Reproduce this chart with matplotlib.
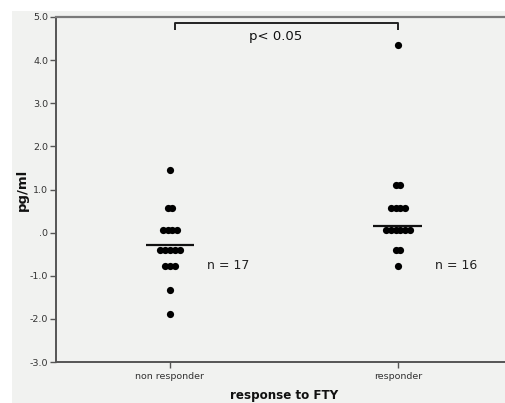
import matplotlib
matplotlib.use("Agg")
import matplotlib.pyplot as plt
from matplotlib.patches import Rectangle
import numpy as np

categories = ["non responder", "responder"]
non_responder = [1.45, 0.57, 0.57, 0.05, 0.05, 0.05, 0.05,
                 -0.40, -0.40, -0.40, -0.40, -0.40,
                 -0.77, -0.77, -0.77, -1.33, -1.89]
responder = [4.36, 1.10, 1.10, 0.57, 0.57, 0.57, 0.57,
             0.05, 0.05, 0.05, 0.05, 0.05, 0.05,
             -0.40, -0.40, -0.78]
group_lines = [-0.29, 0.16]
n_labels = ["n = 17", "n = 16"]
y_ticks = [-3, -2, -1, 0, 1, 2, 3, 4, 5]
y_ticklabels = ["-3.0", "-2.0", "-1.0", ".0", "1.0", "2.0", "3.0", "4.0", "5.0"]
p_text = "p< 0.05"

W, H = 506, 403
fig = plt.figure(figsize=(W / 100, H / 100), dpi=100)
fig.patch.set_facecolor("white")
bg = "#f1f2f0"
fig.patches.append(Rectangle((12 / W, 0), 1, 1 - 11 / H, transform=fig.transFigure,
                             facecolor=bg, edgecolor="none", zorder=-10))

ax = fig.add_axes([56 / W, 1 - 362 / H, 456 / W, (362 - 17) / H])
ax.set_zorder(5)
ax.set_facecolor(bg)
ax.set_xlim(0.5, 2.5)
ax.set_ylim(-3, 5)

px = 1 / 228.0  # data units per pixel in x
spacing = 4.75 * px
for gi, vals in enumerate([non_responder, responder]):
    xc = gi + 1
    uniq = []
    for v in vals:
        if v not in uniq:
            uniq.append(v)
    for v in uniq:
        k = vals.count(v)
        offs = (np.arange(k) - (k - 1) / 2) * spacing
        ax.plot(xc + offs, [v] * k, "o", color="black", markersize=5.2,
                markeredgewidth=0, zorder=3)
    ax.plot([xc - 24.5 * px, xc + 24.5 * px], [group_lines[gi]] * 2,
            color="#111111", lw=1.6, zorder=4, solid_capstyle="butt")
    ax.text(xc + 37 * px, -0.77, n_labels[gi], fontsize=9, color="#222222",
            va="center", ha="left", family="DejaVu Sans")

# significance bracket
yb = 5 - 6 / 43.0
ax.plot([1.02, 1.02, 2, 2], [yb - 0.16, yb, yb, yb - 0.16], color="#222222",
        lw=1.4, solid_capstyle="butt", zorder=4)
ax.text(1.465, 4.55, p_text, fontsize=9.5, color="#111111", ha="center",
        va="center", family="DejaVu Sans")

for s in ["right"]:
    ax.spines[s].set_visible(False)
ax.spines["top"].set_color("#7a7a7a")
ax.spines["top"].set_linewidth(1.6)
ax.spines["left"].set_color("#555555")
ax.spines["left"].set_linewidth(1.4)
ax.spines["bottom"].set_color("#555555")
ax.spines["bottom"].set_linewidth(1.4)

ax.set_yticks(y_ticks)
ax.set_yticklabels(y_ticklabels)
ax.set_xticks([1, 2])
ax.set_xticklabels(categories)
for lab in ax.get_yticklabels() + ax.get_xticklabels():
    lab.set_family("DejaVu Sans")
    lab.set_fontsize(6.8)
    lab.set_color("#333333")
ax.tick_params(axis="both", direction="out", length=4, width=1, color="#555555", pad=1.5)
ax.tick_params(axis="x", pad=3)

ax.set_ylabel("pg/ml", fontsize=9.5, fontweight="bold", color="#111111", labelpad=1)
ax.set_xlabel("response to FTY", fontsize=8.6, fontweight="bold", color="#111111", labelpad=6)

fig.savefig("out.png", dpi=100, facecolor="white")
